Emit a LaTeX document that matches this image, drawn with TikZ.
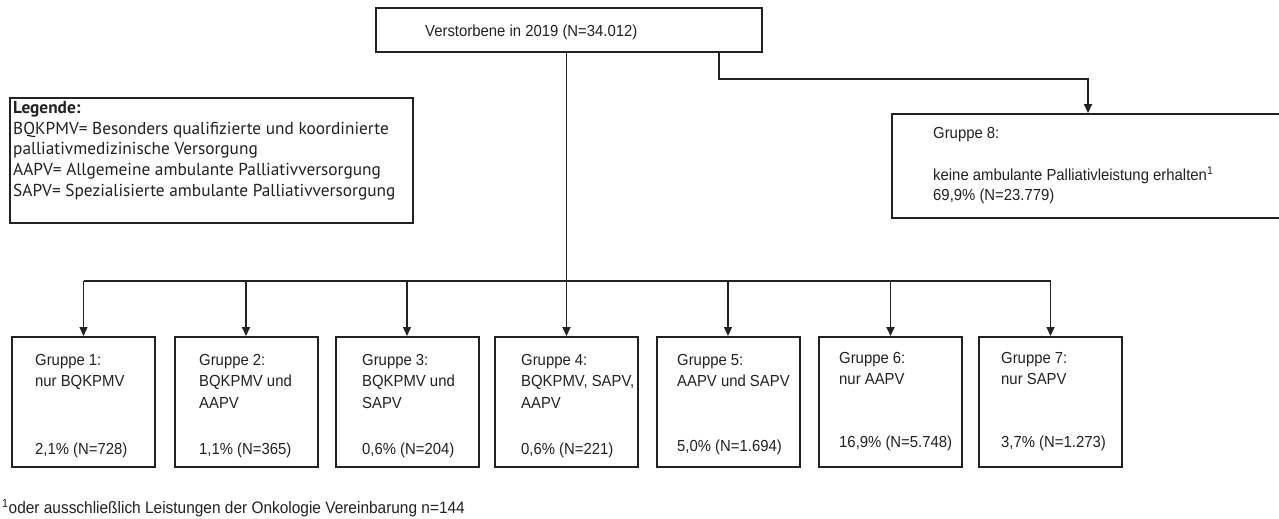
\documentclass[tikz,border=0pt]{standalone}
\usepackage{fontspec}
\usetikzlibrary{arrows.meta}
\newfontfamily\arialf[FakeStretch=0.93]{Liberation Sans}
\newfontfamily\legf{PT Sans}
\definecolor{ink}{HTML}{222222}
\begin{document}
\begin{tikzpicture}[x=1pt,y=-1pt,
  box/.style={draw=ink, line width=2pt, inner sep=0pt, fill=none},
  gbox/.style={box, minimum width=143pt, minimum height=130pt},
  txt/.style={anchor=base west, inner sep=0pt, text=ink, font=\arialf\fontsize{16}{19}\selectfont},
  conn/.style={draw=ink, line width=1.3pt},
  arr/.style={conn, -{Triangle[width=8pt,length=9pt]}},
  arrb/.style={arr, line width=1.8pt}]
\useasboundingbox (0,0) rectangle (1279,519);
\clip (0,0) rectangle (1279,519);
\fill[white] (0,0) rectangle (1279,519);

% top box
\node[box, minimum width=386pt, minimum height=44pt] (top) at (569,30) {};
\node[txt] (toptxt) at (425,37) {Verstorbene in 2019 (N=34.012)};

% legend
\node[box, minimum width=403pt, minimum height=125pt] (leg) at (211.5,160.5) {};
\node[anchor=north west, inner sep=0pt, align=left, text=ink,
      font=\legf\fontsize{17.3}{20.7}\selectfont] (legtxt) at (13,101)
  {\textbf{Legende:}\\
   BQKPMV= Besonders qualifizierte und koordinierte\\
   palliativmedizinische Versorgung\\
   AAPV= Allgemeine ambulante Palliativversorgung\\
   SAPV= Spezialisierte ambulante Palliativversorgung};

% Gruppe 8
\node[box, minimum width=392pt, minimum height=104pt] (g8) at (1088,166) {};
\node[txt] (g8a) at (933,138.5) {Gruppe 8:};
\node[txt] (g8b) at (933,180.5) {keine ambulante Palliativleistung erhalten\textsuperscript{1}};
\node[txt] (g8c) at (933,200.5) {69,9\% (N=23.779)};

% groups 1-7
\node[gbox] (g1) at (83.5,402) {};
\node[gbox] (g2) at (246,402) {};
\node[gbox] (g3) at (407,402) {};
\node[gbox] (g4) at (566.5,402) {};
\node[gbox] (g5) at (728,402) {};
\node[gbox] (g6) at (890.5,402) {};
\node[gbox] (g7) at (1050.5,402) {};

\node[txt] (g1a) at (35,365) {Gruppe 1:};
\node[txt] (g1b) at (35,386) {nur BQKPMV};
\node[txt] (g1p) at (35,454) {2,1\% (N=728)};

\node[txt] (g2a) at (199,365) {Gruppe 2:};
\node[txt] (g2b) at (199,386) {BQKPMV und};
\node[txt] (g2c) at (199,408) {AAPV};
\node[txt] (g2p) at (199,454) {1,1\% (N=365)};

\node[txt] (g3a) at (362,365) {Gruppe 3:};
\node[txt] (g3b) at (362,386) {BQKPMV und};
\node[txt] (g3c) at (362,408) {SAPV};
\node[txt] (g3p) at (362,454) {0,6\% (N=204)};

\node[txt] (g4a) at (521,365) {Gruppe 4:};
\node[txt] (g4b) at (521,386) {BQKPMV, SAPV,};
\node[txt] (g4c) at (521,408) {AAPV};
\node[txt] (g4p) at (521,454) {0,6\% (N=221)};

\node[txt] (g5a) at (677,365) {Gruppe 5:};
\node[txt] (g5b) at (677,386) {AAPV und SAPV};
\node[txt] (g5p) at (677,451) {5,0\% (N=1.694)};

\node[txt] (g6a) at (839,363) {Gruppe 6:};
\node[txt] (g6b) at (839,384) {nur AAPV};
\node[txt] (g6p) at (839,447) {16,9\% (N=5.748)};

\node[txt] (g7a) at (1001,363) {Gruppe 7:};
\node[txt] (g7b) at (1001,384) {nur SAPV};
\node[txt] (g7p) at (1001,447) {3,7\% (N=1.273)};

% footnote
\node[txt, font=\arialf\fontsize{16.6}{19}\selectfont] (fn) at (2,513.5) {\textsuperscript{1}oder ausschließlich Leistungen der Onkologie Vereinbarung n=144};

% connectors
\coordinate (bus) at (0,281);
\coordinate (brk) at (719,79);
\draw[arrb] (top.south -| g4.north) -- (g4.north);
\draw[conn] (g1.north |- bus) -- (g7.north |- bus);
\draw[arr]  (g1.north |- bus) -- (g1.north);
\draw[arrb] (g2.north |- bus) -- (g2.north);
\draw[arr]  (g3.north |- bus) -- (g3.north);
\draw[arr]  (g5.north |- bus) -- (g5.north);
\draw[arrb] (g6.north |- bus) -- (g6.north);
\draw[arr]  (g7.north |- bus) -- (g7.north);
\draw[arrb] (top.south -| brk) -- (brk) -| (g8.north);
\end{tikzpicture}
\end{document}
